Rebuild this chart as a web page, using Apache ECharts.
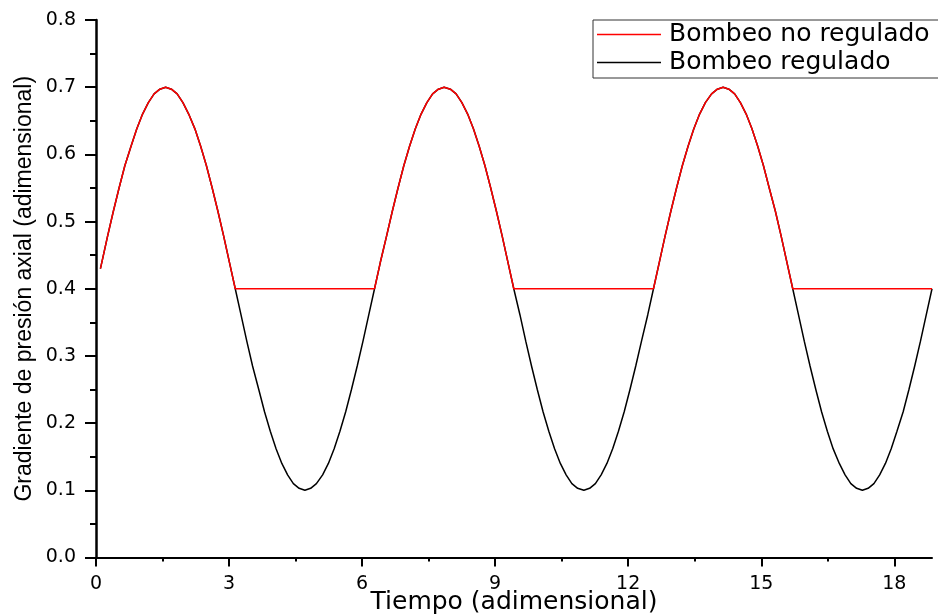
<!DOCTYPE html>
<html>
<head>
<meta charset="utf-8">
<script src="https://cdn.jsdelivr.net/npm/echarts@6/dist/echarts.min.js"></script>
<style>html,body{margin:0;padding:0;background:#fff}#c{width:938px;height:615px}</style>
</head>
<body>
<div id="c"></div>
<script>
// Tiempo (adimensional)
const tiempo = [
  0.10, 0.13, 0.26, 0.39, 0.52, 0.65, 0.79, 0.92, 1.05, 1.18, 1.31, 1.44, 1.57, 1.70, 1.83, 1.96, 2.09, 2.23, 2.36, 2.49, 2.62, 2.75, 2.88, 3.01, 3.14,
  3.27, 3.40, 3.53, 3.67, 3.80, 3.93, 4.06, 4.19, 4.32, 4.45, 4.58, 4.71, 4.84, 4.97, 5.11, 5.24, 5.37, 5.50, 5.63, 5.76, 5.89, 6.02, 6.15, 6.28,
  6.41, 6.55, 6.68, 6.81, 6.94, 7.07, 7.20, 7.33, 7.46, 7.59, 7.72, 7.85, 7.99, 8.12, 8.25, 8.38, 8.51, 8.64, 8.77, 8.90, 9.03, 9.16, 9.29, 9.42,
  9.56, 9.69, 9.82, 9.95, 10.08, 10.21, 10.34, 10.47, 10.60, 10.73, 10.86, 11.00, 11.13, 11.26, 11.39, 11.52, 11.65, 11.78, 11.91, 12.04, 12.17, 12.30, 12.44, 12.57,
  12.70, 12.83, 12.96, 13.09, 13.22, 13.35, 13.48, 13.61, 13.74, 13.88, 14.01, 14.14, 14.27, 14.40, 14.53, 14.66, 14.79, 14.92, 15.05, 15.18, 15.32, 15.45, 15.58, 15.71,
  15.84, 15.97, 16.10, 16.23, 16.36, 16.49, 16.62, 16.76, 16.89, 17.02, 17.15, 17.28, 17.41, 17.54, 17.67, 17.80, 17.93, 18.06, 18.20, 18.33, 18.46, 18.59, 18.72, 18.85
];
// Bombeo regulado (black)
const regulado = [
  0.430, 0.439, 0.478, 0.515, 0.550, 0.583, 0.612, 0.638, 0.660, 0.677, 0.690, 0.697, 0.700, 0.697, 0.690, 0.677, 0.660, 0.638, 0.612, 0.583, 0.550, 0.515, 0.478, 0.439, 0.400,
  0.361, 0.322, 0.285, 0.250, 0.217, 0.188, 0.162, 0.140, 0.123, 0.110, 0.103, 0.100, 0.103, 0.110, 0.123, 0.140, 0.162, 0.188, 0.217, 0.250, 0.285, 0.322, 0.361, 0.400,
  0.439, 0.478, 0.515, 0.550, 0.583, 0.612, 0.638, 0.660, 0.677, 0.690, 0.697, 0.700, 0.697, 0.690, 0.677, 0.660, 0.638, 0.612, 0.583, 0.550, 0.515, 0.478, 0.439, 0.400,
  0.361, 0.322, 0.285, 0.250, 0.217, 0.188, 0.162, 0.140, 0.123, 0.110, 0.103, 0.100, 0.103, 0.110, 0.123, 0.140, 0.162, 0.188, 0.217, 0.250, 0.285, 0.322, 0.361, 0.400,
  0.439, 0.478, 0.515, 0.550, 0.583, 0.612, 0.638, 0.660, 0.677, 0.690, 0.697, 0.700, 0.697, 0.690, 0.677, 0.660, 0.638, 0.612, 0.583, 0.550, 0.515, 0.478, 0.439, 0.400,
  0.361, 0.322, 0.285, 0.250, 0.217, 0.188, 0.162, 0.140, 0.123, 0.110, 0.103, 0.100, 0.103, 0.110, 0.123, 0.140, 0.162, 0.188, 0.217, 0.250, 0.285, 0.322, 0.361, 0.400
];
// Bombeo no regulado (red)
const noRegulado = [
  0.430, 0.439, 0.478, 0.515, 0.550, 0.583, 0.612, 0.638, 0.660, 0.677, 0.690, 0.697, 0.700, 0.697, 0.690, 0.677, 0.660, 0.638, 0.612, 0.583, 0.550, 0.515, 0.478, 0.439, 0.400,
  0.400, 0.400, 0.400, 0.400, 0.400, 0.400, 0.400, 0.400, 0.400, 0.400, 0.400, 0.400, 0.400, 0.400, 0.400, 0.400, 0.400, 0.400, 0.400, 0.400, 0.400, 0.400, 0.400, 0.400,
  0.439, 0.478, 0.515, 0.550, 0.583, 0.612, 0.638, 0.660, 0.677, 0.690, 0.697, 0.700, 0.697, 0.690, 0.677, 0.660, 0.638, 0.612, 0.583, 0.550, 0.515, 0.478, 0.439, 0.400,
  0.400, 0.400, 0.400, 0.400, 0.400, 0.400, 0.400, 0.400, 0.400, 0.400, 0.400, 0.400, 0.400, 0.400, 0.400, 0.400, 0.400, 0.400, 0.400, 0.400, 0.400, 0.400, 0.400, 0.400,
  0.439, 0.478, 0.515, 0.550, 0.583, 0.612, 0.638, 0.660, 0.677, 0.690, 0.697, 0.700, 0.697, 0.690, 0.677, 0.660, 0.638, 0.612, 0.583, 0.550, 0.515, 0.478, 0.439, 0.400,
  0.400, 0.400, 0.400, 0.400, 0.400, 0.400, 0.400, 0.400, 0.400, 0.400, 0.400, 0.400, 0.400, 0.400, 0.400, 0.400, 0.400, 0.400, 0.400, 0.400, 0.400, 0.400, 0.400, 0.400
];
const xMajorTicks = [0, 3, 6, 9, 12, 15, 18];
const xMinorTicks = [1.5, 4.5, 7.5, 10.5, 13.5, 16.5];
const seriesNames = ['Bombeo no regulado', 'Bombeo regulado'];

const chart = echarts.init(document.getElementById('c'), null, {renderer: 'canvas'});
const pair = (xs, ys) => xs.map((x, i) => [x, ys[i]]);

chart.setOption({
  animation: false,
  backgroundColor: '#ffffff',
  grid: {left: 96, right: 6, top: 20, bottom: 57.5, containLabel: false, outerBoundsMode: 'none'},
  legend: {
    orient: 'vertical',
    left: 593, top: 20,
    data: seriesNames,
    icon: 'rect',
    itemWidth: 64, itemHeight: 1.5,
    itemGap: 3,
    padding: [2, 30, 3, 4],
    borderColor: '#333', borderWidth: 1,
    textStyle: {fontFamily: 'DejaVu Sans', fontSize: 25, lineHeight: 25, color: '#000', padding: [0, 0, 0, 3]}
  },
  xAxis: [{
    type: 'value', min: 0, max: 18.85, interval: 3,
    name: 'Tiempo (adimensional)', nameLocation: 'middle', nameGap: 32, nameMoveOverlap: false,
    nameTextStyle: {fontFamily: 'DejaVu Sans', fontSize: 25, color: '#000', lineHeight: 25},
    axisLine: {show: true, onZero: false, lineStyle: {color: '#000', width: 2}},
    axisTick: {show: true, inside: false, length: 9, customValues: xMajorTicks, lineStyle: {color: '#000', width: 2}},
    axisLabel: {show: true, margin: 17, customValues: xMajorTicks, fontFamily: 'DejaVu Sans', fontSize: 19, color: '#000'},
    splitLine: {show: false}
  }, {
    type: 'value', min: 0, max: 18.85, position: 'bottom',
    axisLine: {show: false},
    axisTick: {show: true, inside: false, length: 4, customValues: xMinorTicks, lineStyle: {color: '#000', width: 2}},
    axisLabel: {show: false},
    splitLine: {show: false}
  }],
  yAxis: {
    type: 'value', min: 0, max: 0.8, interval: 0.1,
    name: 'Gradiente de presión axial (adimensional)', nameLocation: 'middle', nameGap: 60, nameMoveOverlap: false,
    nameTextStyle: {fontFamily: 'Liberation Sans', fontSize: 23, color: '#000'},
    axisLine: {show: true, onZero: false, lineStyle: {color: '#000', width: 2.5}},
    axisTick: {show: true, inside: false, length: 11, lineStyle: {color: '#000', width: 2}},
    minorTick: {show: true, splitNumber: 2, length: 6, lineStyle: {color: '#000', width: 2}},
    axisLabel: {margin: 20, fontFamily: 'DejaVu Sans', fontSize: 19, color: '#000', formatter: v => v.toFixed(1)},
    splitLine: {show: false},
    minorSplitLine: {show: false}
  },
  series: [{
    name: 'Bombeo regulado', type: 'line', xAxisIndex: 0,
    data: pair(tiempo, regulado), showSymbol: false, symbol: 'none',
    color: '#000000', lineStyle: {color: '#000000', width: 1.5}, z: 2
  }, {
    name: 'Bombeo no regulado', type: 'line', xAxisIndex: 0,
    data: pair(tiempo, noRegulado), showSymbol: false, symbol: 'none',
    color: '#ff0000', lineStyle: {color: '#ff0000', width: 1.5}, z: 3
  }]
});
</script>
</body>
</html>
